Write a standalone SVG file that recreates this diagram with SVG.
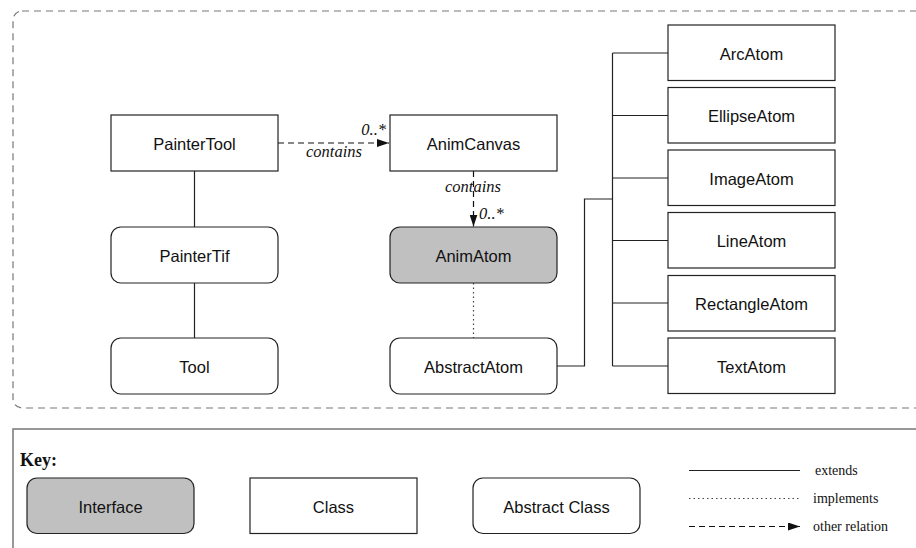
<svg xmlns="http://www.w3.org/2000/svg" width="916" height="548" viewBox="0 0 916 548">
<defs>
<style>
.cls{fill:#fff;stroke:#222;stroke-width:1.2}
.abs{fill:#fff;stroke:#222;stroke-width:1.2}
.ifc{fill:#c0c0c0;stroke:#222;stroke-width:1.2}
.lbl{font-family:"Liberation Sans",Arial,sans-serif;font-size:16.5px;fill:#111;text-anchor:middle}
.it{font-family:"Liberation Serif","Times New Roman",serif;font-style:italic;font-size:16.5px;fill:#111}
.key{font-family:"Liberation Serif","Times New Roman",serif;font-size:14px;fill:#111}
.ext{fill:none;stroke:#222;stroke-width:1.2}
.impl{fill:none;stroke:#444;stroke-width:1.2;stroke-dasharray:1.5 3}
.rel{fill:none;stroke:#111;stroke-width:1.2;stroke-dasharray:6 4}
</style>
<marker id="arr" viewBox="0 0 12 8" refX="12" refY="4" markerWidth="12" markerHeight="8" markerUnits="userSpaceOnUse" orient="auto">
<path d="M0,0 L12,4 L0,8 Z" fill="#111"/>
</marker>
</defs>
<rect x="0" y="0" width="916" height="548" fill="#fff"/>
<rect x="13" y="11" width="960" height="397" rx="9" fill="none" stroke="#777" stroke-width="1.2" stroke-dasharray="7 5"/>
<rect x="13" y="429" width="960" height="150" fill="none" stroke="#777" stroke-width="1.5"/>

<g id="connectors">
<path class="rel" d="M278,143 H389" marker-end="url(#arr)"/>
<text class="it" x="386" y="135" text-anchor="end">0..*</text>
<text class="it" x="334" y="157" text-anchor="middle">contains</text>
<path class="rel" d="M473.5,171 V226.5" marker-end="url(#arr)"/>
<text class="it" x="473" y="191.5" text-anchor="middle">contains</text>
<text class="it" x="479" y="218.5">0..*</text>
<path class="impl" d="M473.5,283 V338"/>
<path class="ext" d="M194.5,171 V227 M194.5,283 V338"/>
<path class="ext" d="M557,366 H584.5 V199 H612.5 M612.5,53 V366 M612.5,53 H668 M612.5,115.5 H668 M612.5,178 H668 M612.5,240.5 H668 M612.5,303 H668 M612.5,366 H668"/>
</g>

<g id="PainterTool"><rect class="cls" x="111" y="115" width="167" height="56"/><text class="lbl" x="194.5" y="150">PainterTool</text></g>
<g id="PainterTif"><rect class="abs" x="111" y="227" width="167" height="56" rx="10"/><text class="lbl" x="194.5" y="262">PainterTif</text></g>
<g id="Tool"><rect class="abs" x="111" y="338" width="167" height="56" rx="10"/><text class="lbl" x="194.5" y="373">Tool</text></g>
<g id="AnimCanvas"><rect class="cls" x="390" y="115" width="167" height="56"/><text class="lbl" x="473.5" y="150">AnimCanvas</text></g>
<g id="AnimAtom"><rect class="ifc" x="390" y="227" width="167" height="56" rx="10"/><text class="lbl" x="473.5" y="262">AnimAtom</text></g>
<g id="AbstractAtom"><rect class="abs" x="390" y="338" width="167" height="56" rx="10"/><text class="lbl" x="473.5" y="373">AbstractAtom</text></g>

<g id="ArcAtom"><rect class="cls" x="668" y="25" width="167" height="55.5"/><text class="lbl" x="751.5" y="59.5">ArcAtom</text></g>
<g id="EllipseAtom"><rect class="cls" x="668" y="87.5" width="167" height="55.5"/><text class="lbl" x="751.5" y="122">EllipseAtom</text></g>
<g id="ImageAtom"><rect class="cls" x="668" y="150" width="167" height="55.5"/><text class="lbl" x="751.5" y="184.5">ImageAtom</text></g>
<g id="LineAtom"><rect class="cls" x="668" y="212.5" width="167" height="55.5"/><text class="lbl" x="751.5" y="247">LineAtom</text></g>
<g id="RectangleAtom"><rect class="cls" x="668" y="275.5" width="167" height="55.5"/><text class="lbl" x="751.5" y="310">RectangleAtom</text></g>
<g id="TextAtom"><rect class="cls" x="668" y="338" width="167" height="55.5"/><text class="lbl" x="751.5" y="372.5">TextAtom</text></g>

<g id="key">
<text x="20" y="466" font-family="'Liberation Serif','Times New Roman',serif" font-weight="bold" font-size="18px" fill="#111">Key:</text>
<g id="key-interface"><rect class="ifc" x="27" y="478" width="167" height="55.5" rx="10"/><text class="lbl" x="110.5" y="512.5">Interface</text></g>
<g id="key-class"><rect class="cls" x="250" y="478" width="167" height="55.5"/><text class="lbl" x="333.5" y="512.5">Class</text></g>
<g id="key-abstract"><rect class="abs" x="473" y="478" width="167" height="55.5" rx="10"/><text class="lbl" x="556.5" y="512.5">Abstract Class</text></g>
<path class="ext" d="M689,470.5 H800"/>
<text class="key" x="815" y="475">extends</text>
<path class="impl" d="M689,498.5 H800"/>
<text class="key" x="813" y="503">implements</text>
<path class="rel" d="M689,526.5 H800" marker-end="url(#arr)"/>
<text class="key" x="813" y="531">other relation</text>
</g>
</svg>
